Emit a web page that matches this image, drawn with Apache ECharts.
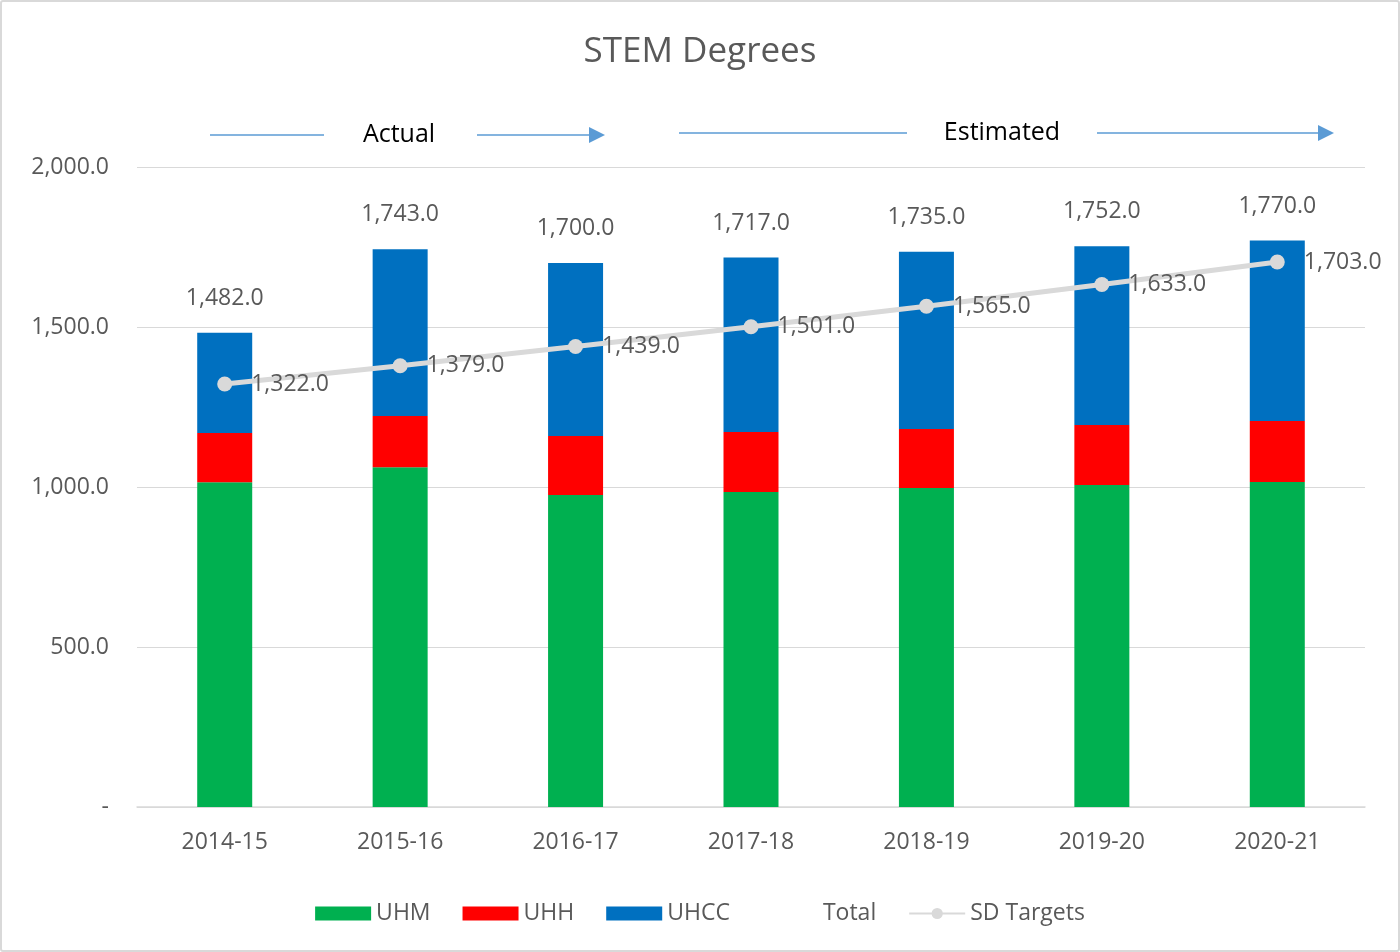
<!DOCTYPE html>
<html>
<head>
<meta charset="utf-8">
<script src="https://cdn.jsdelivr.net/npm/echarts@6/dist/echarts.min.js"></script>
<style>
  html, body { margin: 0; padding: 0; background: #fff; }
  #stemChart { width: 1396px; height: 948px; border: 2px solid #d9d9d9; border-radius: 3px; }
</style>
</head>
<body>
<div id="stemChart"></div>
<script>
// 차트 데이터
var years = ['2014-15', '2015-16', '2016-17', '2017-18', '2018-19', '2019-20', '2020-21'];
var uhm = [1015, 1062, 975, 984, 997, 1006, 1016];
var uhh = [154, 160, 184, 188, 184, 188, 190];
var uhcc = [313, 521, 541, 545, 554, 558, 564];
var total = [1482, 1743, 1700, 1717, 1735, 1752, 1770];
var sdTargets = [1322, 1379, 1439, 1501, 1565, 1633, 1703];
var yTicks = [0, 500, 1000, 1500, 2000];

var chartDom = document.getElementById('stemChart');
var myChart = echarts.init(chartDom);

var fontFam = 'Open Sans';
var txtColor = '#595959';

function fmt(v) {
	if (v === 0) return '-';
	return v.toLocaleString('en-US', { minimumFractionDigits: 1, maximumFractionDigits: 1 });
}

// 주석 화살표 (Actual / Estimated)
function arrowGroup(x1, x2, x3, x4, y, text, tx) {
	return [
		{ type: 'line', shape: { x1: x1, y1: y, x2: x2, y2: y }, style: { stroke: '#5b9bd5', lineWidth: 1.5 } },
		{ type: 'line', shape: { x1: x3, y1: y, x2: x4 - 14, y2: y }, style: { stroke: '#5b9bd5', lineWidth: 1.5 } },
		{ type: 'polygon', shape: { points: [[x4 - 16, y - 8], [x4, y], [x4 - 16, y + 8]] }, style: { fill: '#5b9bd5' } },
		{ type: 'text', x: tx, y: y, style: { text: text, fill: '#000', font: '25px "' + fontFam + '"', textAlign: 'center', textVerticalAlign: 'middle' } }
	];
}

var option = {
	animation: false,
	title: {
		text: 'STEM Degrees',
		left: 'center',
		top: 28,
		textStyle: { fontFamily: fontFam, fontSize: 35, fontWeight: 'normal', color: txtColor }
	},
	legend: {
		bottom: 20,
		left: 'center',
		itemWidth: 56,
		itemHeight: 14,
		itemGap: 32,
		textStyle: { fontFamily: fontFam, fontSize: 23, color: txtColor },
		data: [
			{ name: 'UHM', icon: 'rect' },
			{ name: 'UHH', icon: 'rect' },
			{ name: 'UHCC', icon: 'rect' },
			{ name: 'Total', icon: 'rect', itemStyle: { opacity: 0 } },
			{ name: 'SD Targets' }
		]
	},
	grid: { left: 135, right: 33, top: 165, bottom: 143 },
	xAxis: {
		type: 'category',
		data: years,
		axisLine: { lineStyle: { color: '#d9d9d9', width: 1.5 } },
		axisTick: { show: false },
		axisLabel: { fontFamily: fontFam, fontSize: 23, color: txtColor, margin: 24 }
	},
	yAxis: {
		type: 'value',
		min: yTicks[0],
		max: yTicks[yTicks.length - 1],
		interval: 500,
		axisLine: { show: false },
		axisTick: { show: false },
		splitLine: { lineStyle: { color: '#d9d9d9', width: 1.2 } },
		axisLabel: { fontFamily: fontFam, fontSize: 23, color: txtColor, margin: 28, formatter: fmt }
	},
	series: [
		{ name: 'UHM', type: 'bar', stack: 'stem', barWidth: 55, data: uhm, itemStyle: { color: '#00b050' } },
		{ name: 'UHH', type: 'bar', stack: 'stem', data: uhh, itemStyle: { color: '#ff0000' } },
		{ name: 'UHCC', type: 'bar', stack: 'stem', data: uhcc, itemStyle: { color: '#0070c0' } },
		{
			name: 'Total',
			type: 'line',
			data: total,
			symbol: 'circle',
			symbolSize: 2,
			showAllSymbol: true,
			lineStyle: { opacity: 0 },
			itemStyle: { color: 'rgba(0,0,0,0)' },
			label: {
				show: true, position: 'top', distance: 22,
				fontFamily: fontFam, fontSize: 23, color: txtColor,
				formatter: function (p) { return fmt(p.value); }
			},
			z: 5
		},
		{
			name: 'SD Targets',
			type: 'line',
			data: sdTargets,
			symbol: 'circle',
			symbolSize: 15,
			lineStyle: { color: '#d9d9d9', width: 5 },
			itemStyle: { color: '#d9d9d9' },
			label: {
				show: true, position: 'right', distance: 19,
				fontFamily: fontFam, fontSize: 23, color: txtColor,
				formatter: function (p) { return fmt(p.value); }
			},
			z: 6
		}
	],
	graphic: [].concat(
		arrowGroup(208, 322, 475, 603, 133, 'Actual', 397),
		arrowGroup(677, 905, 1095, 1332, 131, 'Estimated', 1000)
	)
};

myChart.setOption(option);
</script>
</body>
</html>
